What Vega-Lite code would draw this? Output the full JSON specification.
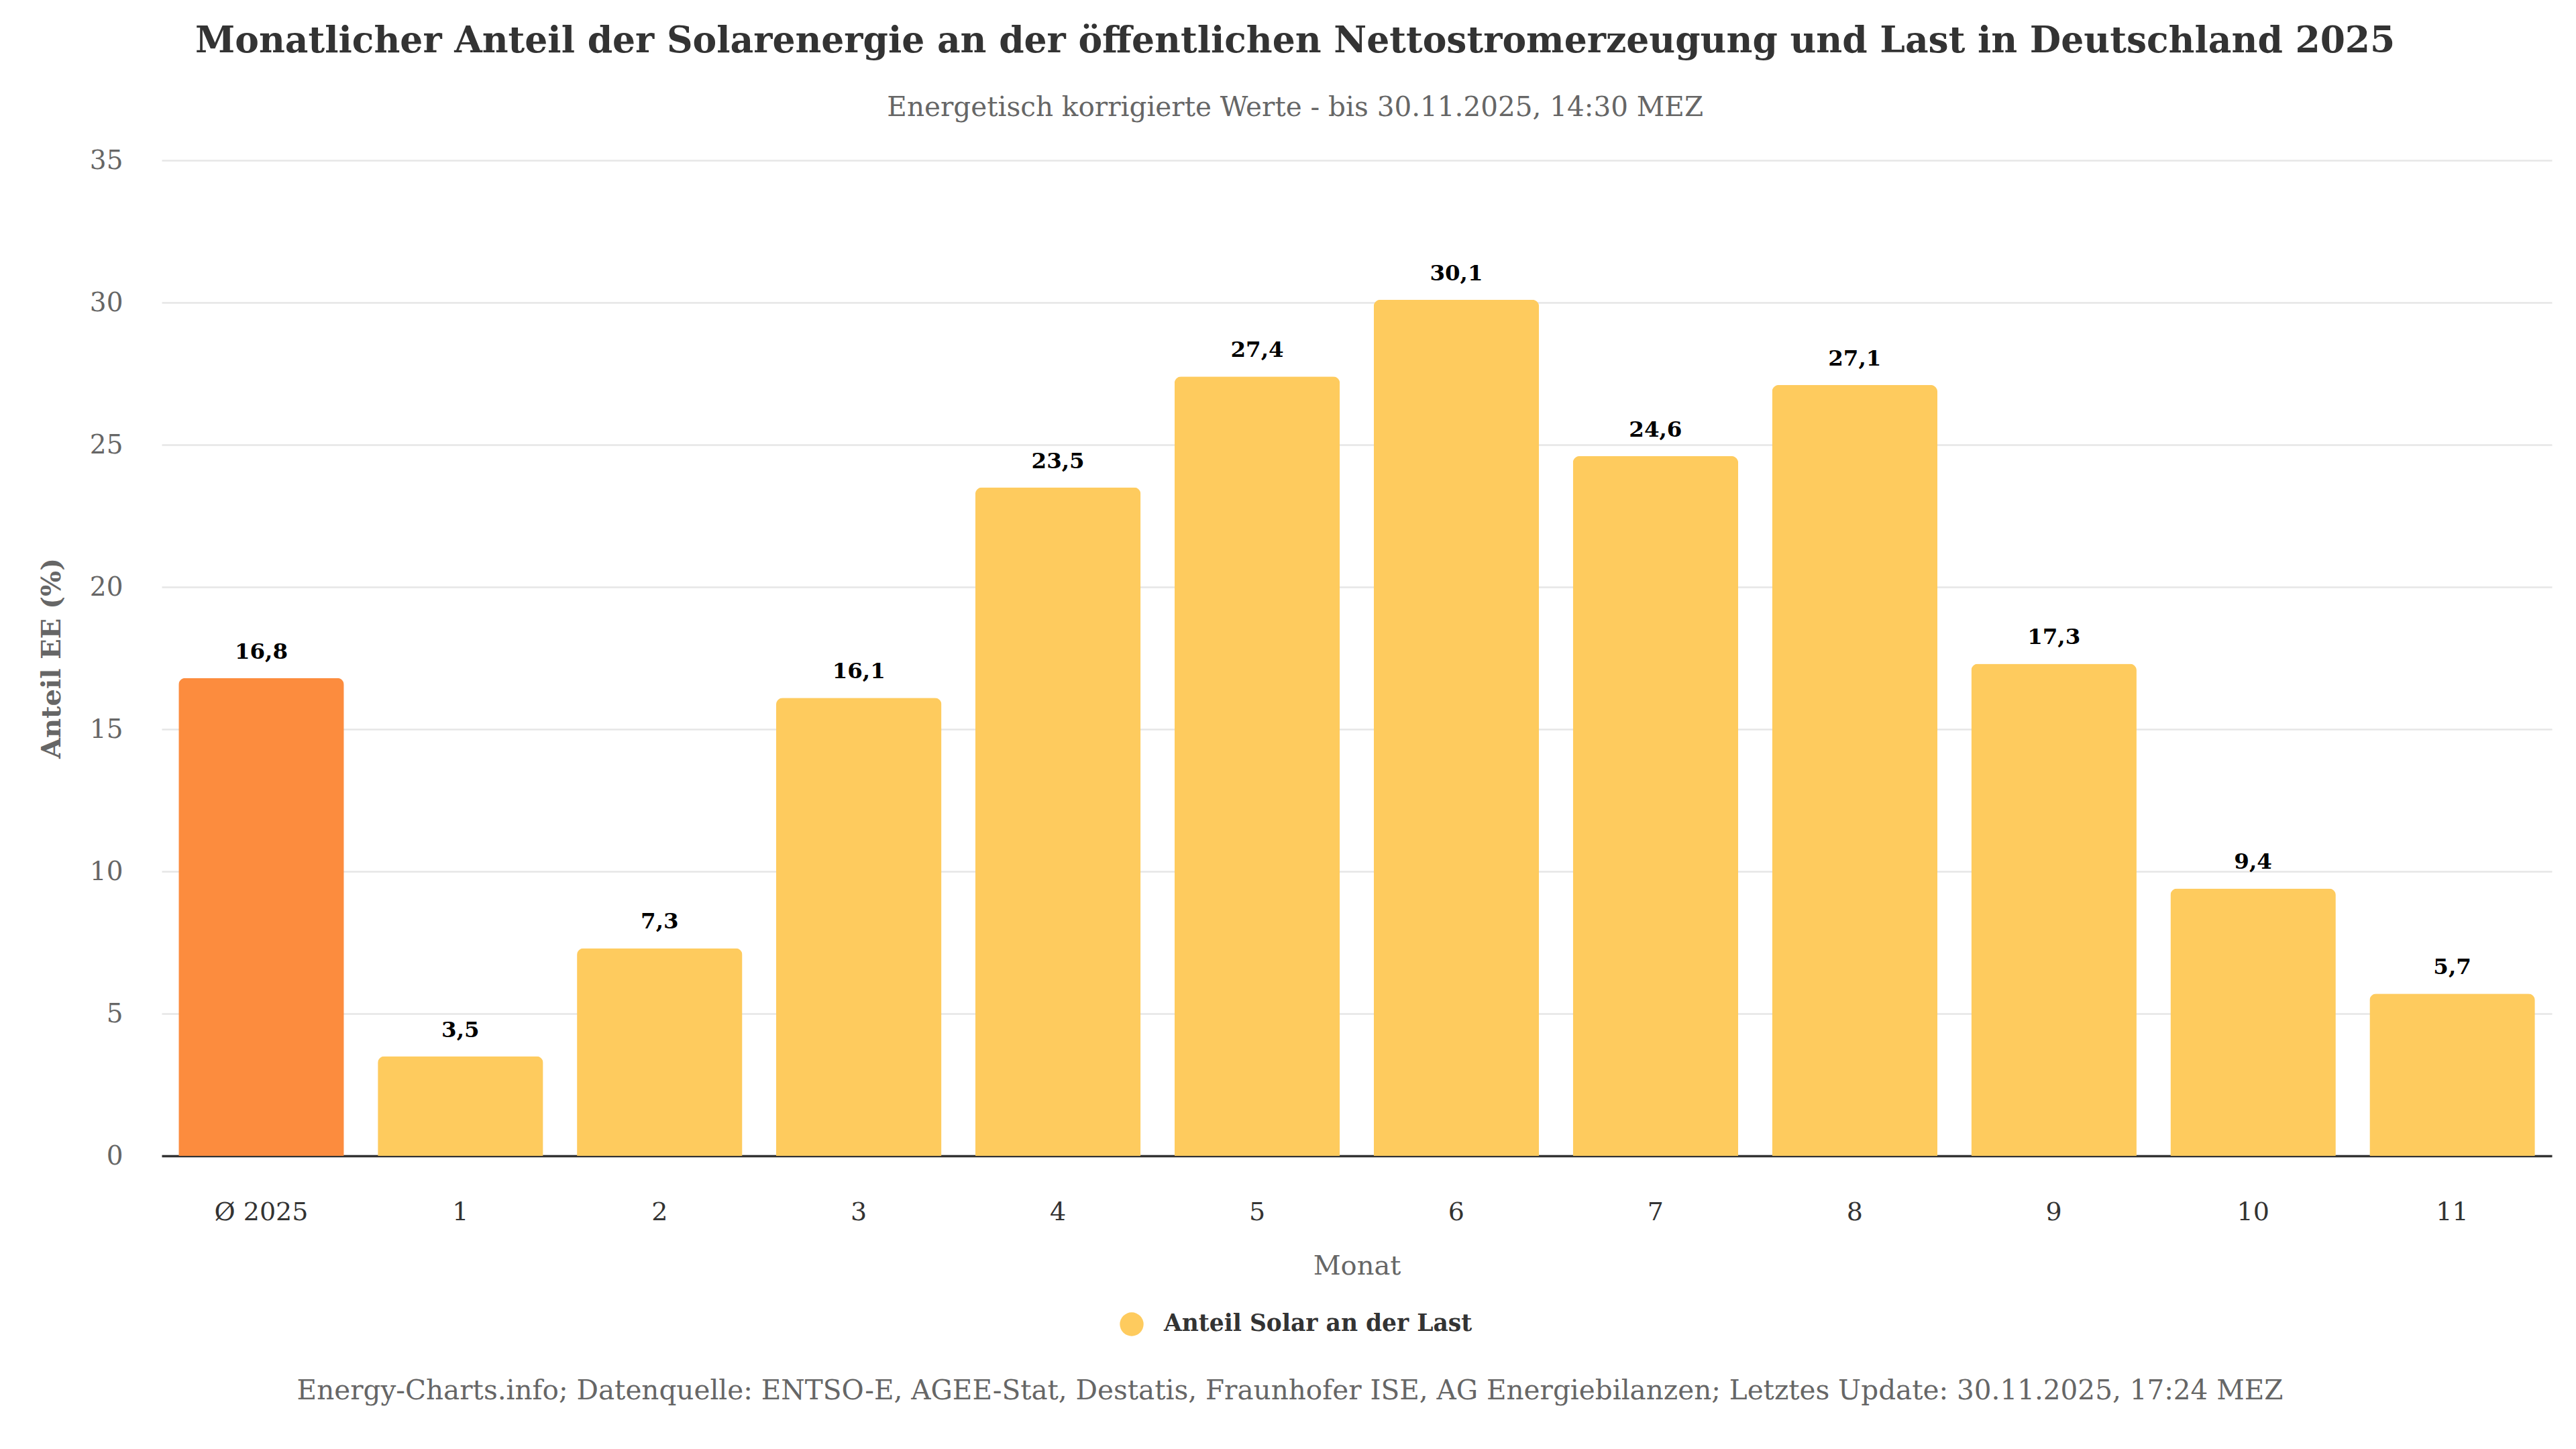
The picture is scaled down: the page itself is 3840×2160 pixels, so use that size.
{
  "$schema": "https://vega.github.io/schema/vega-lite/v6.json",
  "padding": {"left": 57, "right": 5, "top": 35, "bottom": 5},
  "background": "#ffffff",
  "title": {
    "text": "Monatlicher Anteil der Solarenergie an der öffentlichen Nettostromerzeugung und Last in Deutschland 2025",
    "subtitle": "Energetisch korrigierte Werte - bis 30.11.2025, 14:30 MEZ",
    "anchor": "middle",
    "font": "DejaVu Serif",
    "fontSize": 53.5,
    "fontWeight": "bold",
    "color": "#333333",
    "subtitleFont": "DejaVu Serif",
    "subtitleFontSize": 40.5,
    "subtitleColor": "#666666",
    "subtitlePadding": 51,
    "offset": 38
  },
  "spacing": 52,
  "resolve": {"legend": {"color": "independent"}},
  "vconcat": [
    {
      "width": 3563,
      "height": 1484,
      "data": {
        "values": [
          {"monat": "Ø 2025", "anteil": 16.8, "serie": "Anteil Solar an der Last"},
          {"monat": "1", "anteil": 3.5, "serie": "Anteil Solar an der Last"},
          {"monat": "2", "anteil": 7.3, "serie": "Anteil Solar an der Last"},
          {"monat": "3", "anteil": 16.1, "serie": "Anteil Solar an der Last"},
          {"monat": "4", "anteil": 23.5, "serie": "Anteil Solar an der Last"},
          {"monat": "5", "anteil": 27.4, "serie": "Anteil Solar an der Last"},
          {"monat": "6", "anteil": 30.1, "serie": "Anteil Solar an der Last"},
          {"monat": "7", "anteil": 24.6, "serie": "Anteil Solar an der Last"},
          {"monat": "8", "anteil": 27.1, "serie": "Anteil Solar an der Last"},
          {"monat": "9", "anteil": 17.3, "serie": "Anteil Solar an der Last"},
          {"monat": "10", "anteil": 9.4, "serie": "Anteil Solar an der Last"},
          {"monat": "11", "anteil": 5.7, "serie": "Anteil Solar an der Last"}
        ]
      },
      "encoding": {
        "x": {
          "field": "monat",
          "type": "nominal",
          "sort": null,
          "title": "Monat",
          "scale": {"paddingInner": 0.17, "paddingOuter": 0.085},
          "axis": {
            "labelAngle": 0,
            "labelFont": "DejaVu Serif",
            "labelFontSize": 38,
            "labelColor": "#333333",
            "labelPadding": 65,
            "ticks": false,
            "domain": true,
            "domainColor": "#333333",
            "domainWidth": 3.5,
            "grid": false,
            "titleFont": "DejaVu Serif",
            "titleFontSize": 40,
            "titleFontWeight": "normal",
            "titleColor": "#666666",
            "titlePadding": 41
          }
        },
        "y": {
          "field": "anteil",
          "type": "quantitative",
          "scale": {"domain": [0, 35]},
          "title": "Anteil EE (%)",
          "axis": {
            "values": [0, 5, 10, 15, 20, 25, 30, 35],
            "labelFont": "DejaVu Serif",
            "labelFontSize": 39,
            "labelColor": "#666666",
            "labelPadding": 58,
            "ticks": false,
            "domain": false,
            "grid": true,
            "gridColor": "#e6e6e6",
            "gridWidth": 2.5,
            "titleFont": "DejaVu Serif",
            "titleFontSize": 40,
            "titleFontWeight": "bold",
            "titleColor": "#666666",
            "titlePadding": 36
          }
        }
      },
      "layer": [
        {
          "mark": {"type": "bar", "cornerRadiusTopLeft": 10, "cornerRadiusTopRight": 10},
          "encoding": {
            "color": {
              "field": "serie",
              "type": "nominal",
              "condition": {"test": "datum.monat === 'Ø 2025'", "value": "#FC8C3E"},
              "scale": {"range": ["#FECB5E"]},
              "legend": {
                "title": null,
                "orient": "none",
                "legendX": 1428,
                "legendY": 1717,
                "direction": "horizontal",
                "symbolType": "circle",
                "symbolSize": 1250,
                "symbolStrokeWidth": 0,
                "labelFont": "DejaVu Serif",
                "labelFontSize": 34.5,
                "labelFontWeight": "bold",
                "labelColor": "#333333",
                "labelLimit": 0,
                "labelOffset": 30,
                "padding": 0
              }
            }
          }
        },
        {
          "mark": {
            "type": "text",
            "baseline": "bottom",
            "dy": -22,
            "font": "DejaVu Serif",
            "fontWeight": "bold",
            "fontSize": 32.5,
            "color": "#000000"
          },
          "encoding": {
            "text": {"field": "anteil", "type": "quantitative", "format": ".1f"}
          }
        }
      ]
    },
    {
      "width": 3364,
      "height": 60,
      "data": {
        "values": [
          {"quelle": "Energy-Charts.info; Datenquelle: ENTSO-E, AGEE-Stat, Destatis, Fraunhofer ISE, AG Energiebilanzen; Letztes Update: 30.11.2025, 17:24 MEZ"}
        ]
      },
      "mark": {
        "type": "text",
        "font": "DejaVu Serif",
        "fontSize": 40.5,
        "color": "#666666",
        "align": "center",
        "baseline": "middle"
      },
      "encoding": {
        "text": {"field": "quelle", "type": "nominal"}
      }
    }
  ],
  "config": {
    "view": {"stroke": null},
    "locale": {
      "number": {"decimal": ",", "thousands": ".", "grouping": [3], "currency": ["", " €"]}
    }
  }
}
